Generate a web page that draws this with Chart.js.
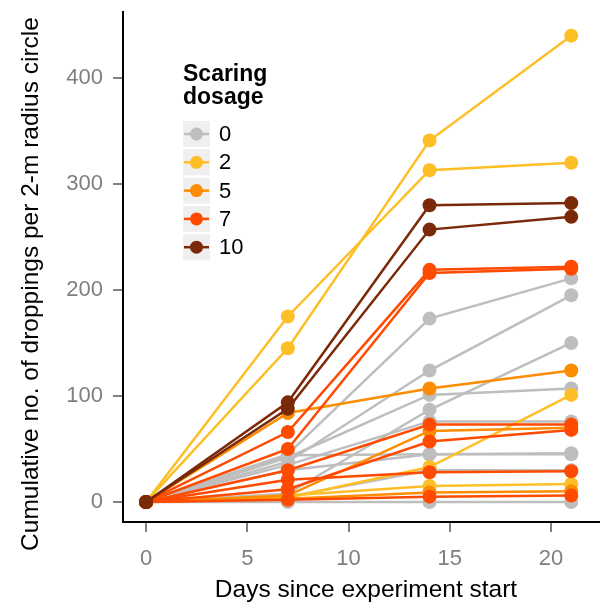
<!DOCTYPE html>
<html>
<head>
<meta charset="utf-8">
<script src="https://cdn.jsdelivr.net/npm/chart.js@4/dist/chart.umd.min.js"></script>
<style>
  html, body { margin: 0; padding: 0; background: #fff; }
  #wrap { width: 606px; height: 604px; }
</style>
</head>
<body>
<div id="wrap"><canvas id="chart"></canvas></div>
<script>
// Sampling days and axis ticks
const days = [0, 7, 14, 21]
const xTicks = [0, 5, 10, 15, 20]
const yTicks = [0, 100, 200, 300, 400]

// Scaring dosage groups (legend order)
const dosages = [0, 2, 5, 7, 10]

// Cumulative droppings per plot, one array per plot (values at days 0, 7, 14, 21)
const dose0 = [
    [0, 45, 173, 211],
    [0, 38, 124, 195],
    [0, 8, 87, 150],
    [0, 42, 101, 107],
    [0, 35, 76, 76],
    [0, 44, 45, 46],
    [0, 30, 45, 45],
    [0, 5, 30, 30],
    [0, 0, 0, 0]
]
const dose2 = [
    [0, 175, 313, 320],
    [0, 145, 341, 440],
    [0, 4, 33, 101],
    [0, 6, 15, 17]
]
const dose5 = [
    [0, 84, 107, 124],
    [0, 6, 67, 70],
    [0, 3, 9, 10]
]
const dose7 = [
    [0, 66, 219, 222],
    [0, 50, 216, 220],
    [0, 30, 73, 73],
    [0, 12, 57, 68],
    [0, 21, 28, 29],
    [0, 2, 5, 6]
]
const dose10 = [
    [0, 94, 280, 282],
    [0, 88, 257, 269]
]

const groups = [dose0, dose2, dose5, dose7, dose10]
const colors = ['#BEBEBE', '#FDBE26', '#FE8C00', '#FF4A00', '#7A2A08']

const xTitle = 'Days since experiment start'
const yTitle = 'Cumulative no. of droppings per 2-m radius circle'

const FONT = '"Liberation Sans", Arial, Helvetica, sans-serif'

const datasets = []
groups.forEach(function(group, g) {
    group.forEach(function(vals) {
        datasets.push({
            label: String(dosages[g]),
            data: days.map((d, i) => ({ x: d, y: vals[i] })),
            borderColor: colors[g],
            backgroundColor: colors[g],
            pointBackgroundColor: colors[g],
            pointBorderWidth: 0,
            pointRadius: 7,
            borderWidth: 2.5,
            order: groups.length - g,
            clip: false
        })
    })
})

// Axis titles and the "Scaring dosage" key
const annotations = {
    id: 'annotations',
    afterDraw(chart) {
        const ctx = chart.ctx
        ctx.save()
        ctx.fillStyle = '#000'
        ctx.textAlign = 'center'
        ctx.textBaseline = 'middle'
        ctx.font = '24.5px ' + FONT
        ctx.fillText(xTitle, 366, 590)
        ctx.save()
        ctx.translate(31, 284)
        ctx.rotate(-Math.PI / 2)
        ctx.fillText(yTitle, 0, 0)
        ctx.restore()

        ctx.font = 'bold 23px ' + FONT
        ctx.textAlign = 'left'
        ctx.textBaseline = 'alphabetic'
        ctx.fillText('Scaring', 183, 81)
        ctx.fillText('dosage', 183, 104)

        dosages.forEach(function(d, i) {
            const top = 121 + i * 28.3
            ctx.fillStyle = '#EFEFEF'
            ctx.fillRect(183, top, 27, 26)
            ctx.strokeStyle = colors[i]
            ctx.lineWidth = 2.5
            ctx.beginPath()
            ctx.moveTo(184, top + 13)
            ctx.lineTo(209, top + 13)
            ctx.stroke()
            ctx.fillStyle = colors[i]
            ctx.beginPath()
            ctx.arc(196.5, top + 13, 6.5, 0, Math.PI * 2)
            ctx.fill()
            ctx.fillStyle = '#000'
            ctx.font = '22px ' + FONT
            ctx.textBaseline = 'middle'
            ctx.fillText(String(d), 219, top + 14)
            ctx.textBaseline = 'alphabetic'
        })
        ctx.restore()
    }
}

function initializeChart() {
    const ctx = document.getElementById('chart')
    new Chart(ctx, {
        type: 'line',
        data: { datasets: datasets },
        options: {
            responsive: true,
            maintainAspectRatio: false,
            animation: false,
            layout: { padding: { top: 12, right: 0, bottom: 0, left: 0 } },
            plugins: {
                legend: { display: false },
                tooltip: { enabled: false }
            },
            scales: {
                x: {
                    type: 'linear',
                    min: -1.14,
                    max: 22.37,
                    afterBuildTicks: scale => { scale.ticks = xTicks.map(v => ({ value: v })) },
                    afterFit: scale => {
                        scale.height = 82
                        scale.paddingLeft = 0
                        scale.paddingRight = 0
                    },
                    border: { display: true, color: '#000', width: 2 },
                    grid: { drawOnChartArea: false, drawTicks: true, tickLength: 10, tickColor: '#7F7F7F', lineWidth: 2 },
                    ticks: { color: '#7F7F7F', font: { family: FONT, size: 22 }, padding: 14, maxRotation: 0 },
                    title: { display: false }
                },
                y: {
                    type: 'linear',
                    min: -18.9,
                    max: 462.3,
                    afterBuildTicks: scale => { scale.ticks = yTicks.map(v => ({ value: v })) },
                    afterFit: scale => {
                        scale.width = 123
                        scale.paddingTop = 0
                        scale.paddingBottom = 0
                    },
                    border: { display: true, color: '#000', width: 2 },
                    grid: { drawOnChartArea: false, drawTicks: true, tickLength: 10, tickColor: '#7F7F7F', lineWidth: 2 },
                    ticks: { color: '#7F7F7F', font: { family: FONT, size: 22 }, padding: 10 },
                    title: { display: false }
                }
            }
        },
        plugins: [annotations]
    })
}

document.addEventListener('DOMContentLoaded', initializeChart)
</script>
</body>
</html>
